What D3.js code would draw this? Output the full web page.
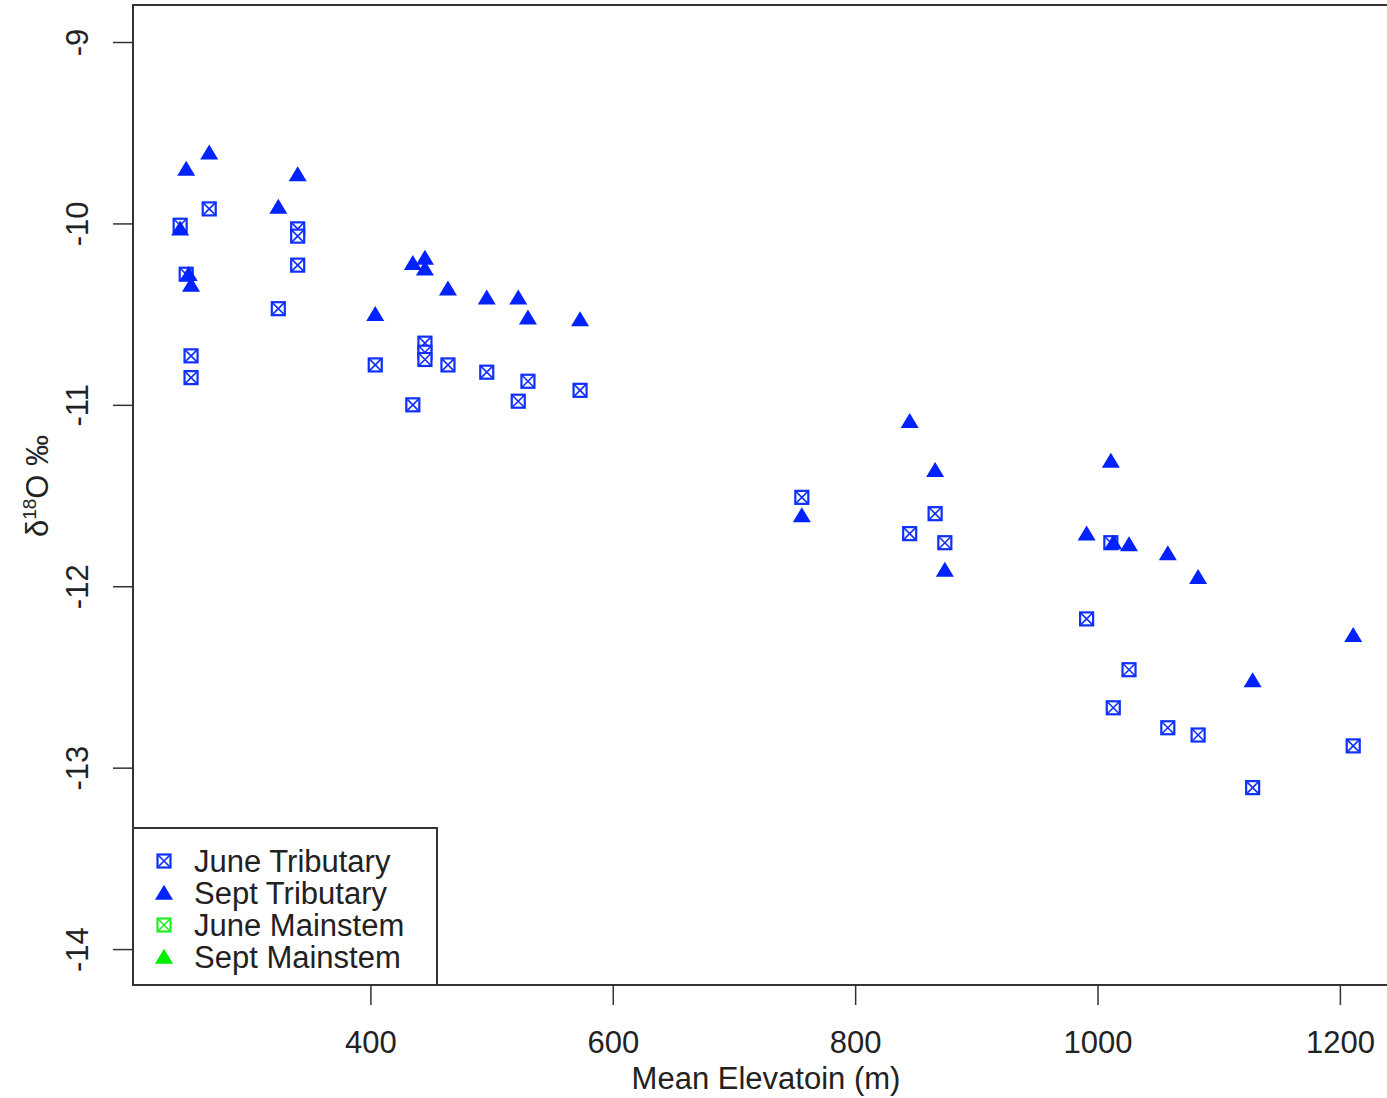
<!DOCTYPE html>
<html><head><meta charset="utf-8">
<script src="https://cdn.jsdelivr.net/npm/d3@7"></script>
<style>body{margin:0;background:#fff}svg{display:block;font-family:"Liberation Sans",Arial,sans-serif}</style>
</head><body><svg id="c" width="1387" height="1098"></svg>
<script>
const juneTribElev = [243,248,267,252,252,324,340,340,340,404,435,445,445,445,464,496,522,530,573,756,845,866,874,991,1011,1013,1026,1058,1083,1128,1211];
const juneTribD18O = [-10.01,-10.28,-9.92,-10.73,-10.85,-10.47,-10.03,-10.07,-10.23,-10.78,-11.00,-10.66,-10.71,-10.75,-10.78,-10.82,-10.98,-10.87,-10.92,-11.51,-11.71,-11.60,-11.76,-12.18,-11.76,-12.67,-12.46,-12.78,-12.82,-13.11,-12.88];
const septTribElev = [248,267,243,250,252,324,340,404,435,445,445,464,496,522,530,573,756,845,866,874,991,1011,1013,1026,1058,1083,1128,1211];
const septTribD18O = [-9.70,-9.61,-10.03,-10.28,-10.34,-9.91,-9.73,-10.50,-10.22,-10.19,-10.25,-10.36,-10.41,-10.41,-10.52,-10.53,-11.61,-11.09,-11.36,-11.91,-11.71,-11.31,-11.76,-11.77,-11.82,-11.95,-12.52,-12.27];
const juneMainElev = [];
const juneMainD18O = [];
const septMainElev = [];
const septMainD18O = [];
const xTicks = [400,600,800,1000,1200];
const yTicks = [-9,-10,-11,-12,-13,-14];
const legendLabels = ["June Tributary","Sept Tributary","June Mainstem","Sept Mainstem"];
const legendColors = ["#1030ff","#0022ff","#22ee22","#00ee00"];
const legendShapes = ["sq","tri","sq","tri"];

const FS = 31;
const svg = d3.select("#c");
const L=133, T=5, R=1392, B=985;
const x = d3.scaleLinear().domain([204.1,1243]).range([L,R]);
const y = d3.scaleLinear().domain([-8.796,-14.198]).range([T,B]);

function sq(g, cx, cy, col){
  const s=6.5;
  g.append("rect").attr("x",cx-s).attr("y",cy-s).attr("width",2*s).attr("height",2*s)
    .attr("fill","#fff").attr("stroke",col).attr("stroke-width",2.2);
  g.append("path").attr("d",`M${cx-s},${cy-s}L${cx+s},${cy+s}M${cx+s},${cy-s}L${cx-s},${cy+s}`)
    .attr("stroke",col).attr("stroke-width",1.6).attr("fill","none");
}
function tri(g, cx, cy, col){
  const w=9, h=15;
  g.append("path").attr("d",`M${cx},${cy-h*0.55}L${cx+w},${cy+h*0.45}L${cx-w},${cy+h*0.45}Z`).attr("fill",col);
}

const pts = svg.append("g");
juneTribElev.forEach((e,i)=>sq(pts,x(e),y(juneTribD18O[i]),legendColors[0]));
septTribElev.forEach((e,i)=>tri(pts,x(e),y(septTribD18O[i]),legendColors[1]));
juneMainElev.forEach((e,i)=>sq(pts,x(e),y(juneMainD18O[i]),legendColors[2]));
septMainElev.forEach((e,i)=>tri(pts,x(e),y(septMainD18O[i]),legendColors[3]));

// box
svg.append("rect").attr("x",L).attr("y",T).attr("width",R-L).attr("height",B-T)
  .attr("fill","none").attr("stroke","#333").attr("stroke-width",2);

// x axis
const xa = svg.append("g").attr("transform",`translate(0,${B})`)
  .call(d3.axisBottom(x).tickValues(xTicks).tickSize(20).tickPadding(26).tickFormat(d3.format("d")));
xa.select(".domain").remove();
xa.selectAll("line").attr("stroke","#333").attr("stroke-width",1.5);
xa.selectAll("text").attr("font-size",FS).attr("fill","#222").attr("font-family","Liberation Sans, Arial, sans-serif");

// y axis
const ya = svg.append("g").attr("transform",`translate(${L},0)`)
  .call(d3.axisLeft(y).tickValues(yTicks).tickSize(20).tickFormat(d3.format("d")));
ya.select(".domain").remove();
ya.selectAll("line").attr("stroke","#333").attr("stroke-width",1.5);
ya.selectAll("text").remove();
ya.selectAll(".tick").append("text")
  .attr("transform","translate(-56,0) rotate(-90)")
  .attr("text-anchor","middle").attr("dy","0.35em")
  .attr("font-size",FS).attr("fill","#222").attr("font-family","Liberation Sans, Arial, sans-serif")
  .text(d=>d);

// axis titles
svg.append("text").attr("x",766).attr("y",1089).attr("text-anchor","middle")
  .attr("font-size",FS).attr("fill","#222").text("Mean Elevatoin (m)");
const yt = svg.append("text").attr("transform","translate(48,486) rotate(-90)").attr("text-anchor","middle")
  .attr("font-size",FS).attr("fill","#222");
yt.append("tspan").text("δ");
yt.append("tspan").attr("dy",-12).attr("font-size",19).text("18");
yt.append("tspan").attr("dy",12).text("O ‰");

// legend
const lg = svg.append("g");
lg.append("rect").attr("x",L).attr("y",828).attr("width",437-L).attr("height",B-828)
  .attr("fill","#fff").attr("stroke","#333").attr("stroke-width",2);
legendLabels.forEach((lab,i)=>{
  const cy = 861 + i*32;
  if(legendShapes[i]==="sq") sq(lg,164,cy,legendColors[i]); else tri(lg,164,cy,legendColors[i]);
  lg.append("text").attr("x",194).attr("y",cy).attr("dy","0.35em").attr("font-size",FS).attr("fill","#222").text(lab);
});
</script></body></html>
